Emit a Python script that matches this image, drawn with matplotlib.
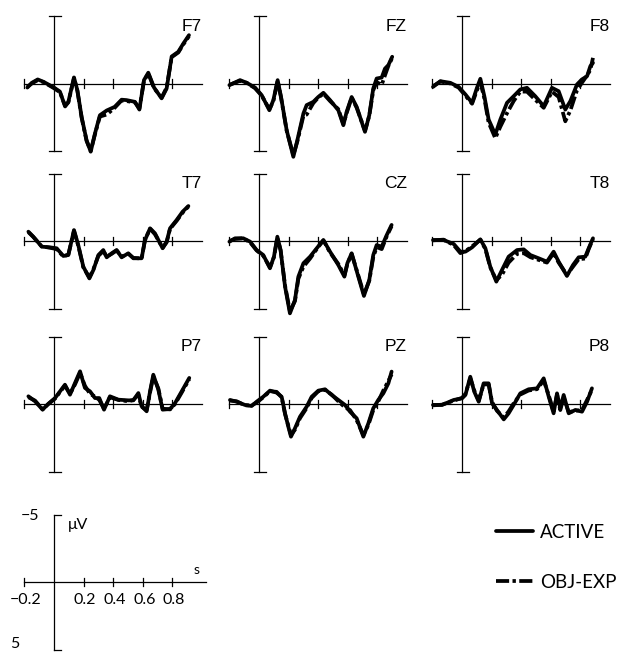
import matplotlib
matplotlib.use("Agg")
import matplotlib.pyplot as plt

# figure size in pixels and drawing scale (pixels per second / per microvolt)
W, H = 621, 656
PX_S = 148.0
PX_UV = 13.5

# ---- ERP data in microvolts (negative plotted upward) ----
f7_t = [-0.18, -0.15, -0.11, -0.07, 0.0, 0.04, 0.075, 0.097, 0.135, 0.158, 0.187, 0.22, 0.248, 0.277, 0.31,
        0.356, 0.41, 0.457, 0.49, 0.547, 0.577, 0.608, 0.637, 0.676, 0.727, 0.761, 0.795, 0.84, 0.874, 0.912]
f7_active = [0.3, -0.05, -0.3, -0.12, 0.3, 0.6, 1.7, 1.36, -0.45, 0.5, 2.5, 4.2, 5.05, 3.7, 2.35,
             2.0, 1.73, 1.2, 1.23, 1.36, 1.93, -0.25, -0.8, 0.3, 1.1, 0.37, -2.0, -2.35, -2.96, -3.58]
f7_objexp = [0.25, 0.0, -0.25, -0.1, 0.35, 0.65, 1.65, 1.4, -0.4, 0.55, 2.55, 4.25, 5.0, 3.75, 2.45,
             2.3, 1.8, 1.25, 1.3, 1.4, 1.85, -0.2, -0.75, 0.35, 1.05, 0.3, -1.95, -2.3, -2.9, -3.5]

fz_t = [-0.2, -0.128, -0.083, -0.027, 0.018, 0.07, 0.097, 0.126, 0.149, 0.187, 0.232, 0.259, 0.3, 0.322, 0.367, 0.4,
        0.435, 0.48, 0.536, 0.57, 0.592, 0.626, 0.66, 0.716, 0.745, 0.772, 0.795, 0.829, 0.851, 0.874, 0.9]
fz_active = [0.12, -0.25, -0.05, 0.3, 0.86, 1.98, 1.23, -0.25, 1.0, 3.46, 5.43, 4.2, 2.22, 1.6, 1.36, 1.0,
             0.69, 1.23, 1.98, 3.09, 2.1, 1.0, 1.73, 3.58, 2.35, 0.37, -0.37, -0.44, -1.1, -1.36, -1.98]
fz_objexp = [0.1, -0.2, -0.05, 0.35, 0.9, 1.9, 1.3, -0.2, 1.05, 3.5, 5.3, 4.3, 2.4, 2.3, 1.45, 1.05,
             0.75, 1.3, 1.9, 3.0, 2.2, 1.05, 1.8, 3.5, 2.4, 0.5, -0.1, 0.1, -0.6, -1.3, -1.9]

f8_t = [-0.196, -0.146, -0.079, -0.023, 0.023, 0.068, 0.101, 0.124, 0.151, 0.18, 0.225, 0.259, 0.304, 0.349,
        0.394, 0.439, 0.495, 0.552, 0.608, 0.653, 0.698, 0.732, 0.777, 0.81, 0.845, 0.867, 0.885]
f8_active = [0.25, -0.17, -0.05, 0.25, 0.81, 1.43, 0.32, -0.35, 0.94, 2.67, 3.78, 2.67, 1.43, 0.94,
             0.44, 0.32, 0.94, 1.68, 0.32, 0.57, 1.93, 1.31, 0.07, -0.3, -0.54, -1.28, -1.53]
f8_objexp = [0.2, -0.15, 0.0, 0.3, 0.9, 1.5, 0.5, -0.1, 1.1, 2.9, 4.05, 3.2, 2.2, 1.3,
             0.6, 0.6, 1.2, 1.8, 0.6, 1.0, 2.8, 2.0, 0.5, -0.05, -0.6, -1.0, -1.9]

t7_t = [-0.173, -0.14, -0.083, -0.027, 0.018, 0.063, 0.097, 0.135, 0.164, 0.198, 0.239, 0.266, 0.3, 0.333, 0.356,
        0.39, 0.423, 0.457, 0.502, 0.536, 0.592, 0.615, 0.649, 0.682, 0.734, 0.761, 0.784, 0.829, 0.869, 0.908]
t7_active = [-0.69, -0.32, 0.42, 0.47, 0.54, 1.11, 1.04, -0.81, 0.3, 1.9, 2.77, 2.15, 1.04, 0.67, 1.21,
             0.91, 0.67, 1.21, 0.91, 1.28, 1.28, -0.07, -0.94, -0.57, 0.54, 0.05, -0.94, -1.56, -2.17, -2.59]
t7_objexp = [-0.65, -0.3, 0.4, 0.5, 0.6, 1.15, 1.0, -0.75, 0.35, 1.95, 2.7, 2.1, 1.1, 0.75, 1.15,
             0.95, 0.7, 1.15, 0.95, 1.25, 1.3, -0.1, -0.9, -0.5, 0.5, 0.1, -0.9, -1.5, -2.1, -2.55]

cz_t = [-0.2, -0.162, -0.106, -0.06, -0.016, 0.029, 0.074, 0.101, 0.124, 0.146, 0.176, 0.209, 0.243, 0.266, 0.3, 0.345,
        0.39, 0.435, 0.48, 0.536, 0.577, 0.597, 0.626, 0.671, 0.709, 0.745, 0.772, 0.795, 0.829, 0.863, 0.896]
cz_active = [0.05, -0.2, -0.2, 0.05, 0.67, 1.04, 2.02, 1.16, -0.32, 0.67, 3.38, 5.36, 4.37, 2.64, 1.65, 1.16,
             0.54, -0.07, 0.79, 1.78, 2.64, 1.65, 0.91, 2.64, 4.07, 2.89, 1.04, 0.3, 0.42, -0.44, -1.19]
cz_objexp = [0.0, -0.15, -0.2, 0.1, 0.7, 1.1, 1.95, 1.2, -0.25, 0.7, 3.3, 5.2, 4.45, 2.8, 1.9, 1.3,
             0.6, -0.05, 0.85, 1.7, 2.55, 1.7, 0.95, 2.55, 3.95, 2.95, 1.2, 0.45, 0.6, -0.35, -1.1]

t8_t = [-0.196, -0.124, -0.056, -0.011, 0.023, 0.068, 0.124, 0.158, 0.191, 0.232, 0.27, 0.315, 0.372,
        0.417, 0.462, 0.518, 0.574, 0.619, 0.653, 0.709, 0.75, 0.788, 0.833, 0.856, 0.885]
t8_active = [-0.07, -0.07, 0.22, 0.79, 0.79, 0.47, -0.12, 0.54, 1.9, 3.01, 2.15, 1.16, 0.67,
             0.62, 1.04, 1.28, 1.53, 0.79, 1.53, 2.59, 1.78, 1.21, 1.16, 0.54, -0.2]
t8_objexp = [-0.05, -0.1, 0.3, 0.9, 0.75, 0.4, -0.1, 0.6, 1.95, 2.9, 2.5, 1.6, 0.95,
             0.9, 1.2, 1.4, 1.6, 0.9, 1.6, 2.5, 1.9, 1.35, 1.3, 0.6, -0.15]

p7_t = [-0.173, -0.128, -0.077, -0.038, 0.007, 0.041, 0.074, 0.108, 0.142, 0.176, 0.209, 0.243, 0.277, 0.306, 0.338,
        0.378, 0.435, 0.502, 0.536, 0.57, 0.592, 0.626, 0.649, 0.671, 0.705, 0.734, 0.784, 0.818, 0.863, 0.914]
p7_active = [-0.57, -0.2, 0.42, -0.02, -0.44, -0.94, -1.43, -0.69, -1.56, -2.42, -1.19, -0.94, -0.44, -0.44, 0.42,
             -0.57, -0.32, -0.27, -0.27, -0.81, 0.17, 0.54, -0.94, -2.17, -1.06, 0.42, 0.37, -0.07, -0.94, -1.93]
p7_objexp = [-0.5, -0.25, 0.4, 0.0, -0.4, -0.9, -1.35, -0.75, -1.45, -2.3, -1.35, -0.75, -0.55, -0.3, 0.35,
             -0.5, -0.3, -0.2, -0.3, -0.7, 0.2, 0.45, -0.85, -2.05, -1.15, 0.35, 0.4, 0.0, -0.85, -1.85]

pz_t = [-0.196, -0.151, -0.095, -0.05, -0.016, 0.029, 0.074, 0.119, 0.153, 0.176, 0.198, 0.216, 0.243, 0.277, 0.322,
        0.356, 0.401, 0.446, 0.491, 0.536, 0.581, 0.615, 0.66, 0.705, 0.739, 0.772, 0.806, 0.84, 0.874, 0.896]
pz_active = [-0.3, -0.17, 0.07, 0.15, -0.17, -0.54, -0.99, -0.84, -0.54, 0.69, 1.68, 2.42, 1.8, 0.94, 0.2,
             -0.54, -0.99, -1.09, -0.67, -0.3, 0.07, 0.57, 1.06, 2.42, 1.43, 0.32, -0.3, -0.79, -1.53, -2.4]
pz_objexp = [-0.25, -0.2, 0.1, 0.1, -0.1, -0.5, -0.95, -0.9, -0.5, 0.75, 1.6, 2.3, 1.9, 1.05, 0.3,
             -0.45, -0.95, -1.05, -0.7, -0.2, 0.25, 0.45, 1.2, 2.3, 1.55, 0.45, -0.2, -1.0, -1.7, -2.2]

p8_t = [-0.196, -0.135, -0.056, 0.0, 0.023, 0.056, 0.083, 0.113, 0.146, 0.18, 0.203, 0.236, 0.282, 0.315, 0.349,
        0.394, 0.45, 0.507, 0.552, 0.586, 0.619, 0.642, 0.664, 0.687, 0.721, 0.766, 0.811, 0.845, 0.878]
p8_active = [0.07, 0.07, -0.3, -0.42, -0.67, -2.02, -0.91, -0.17, -1.53, -1.53, -0.05, 0.44, 1.14, 0.69, 0.07,
             -0.79, -1.09, -1.16, -1.9, -0.54, 0.69, -0.79, 0.32, -0.67, 0.69, 0.44, 0.57, -0.17, -1.16]
p8_objexp = [0.1, 0.05, -0.25, -0.45, -0.75, -1.9, -1.0, -0.25, -1.45, -1.45, -0.15, 0.5, 1.0, 0.55, -0.05,
             -0.7, -1.0, -1.1, -1.75, -0.65, 0.6, -0.7, 0.45, -0.5, 0.6, 0.5, 0.45, -0.3, -1.05]

panels = [
    ["F7", f7_t, f7_active, f7_objexp], ["FZ", fz_t, fz_active, fz_objexp], ["F8", f8_t, f8_active, f8_objexp],
    ["T7", t7_t, t7_active, t7_objexp], ["CZ", cz_t, cz_active, cz_objexp], ["T8", t8_t, t8_active, t8_objexp],
    ["P7", p7_t, p7_active, p7_objexp], ["PZ", pz_t, pz_active, pz_objexp], ["P8", p8_t, p8_active, p8_objexp],
]
time_ticks = [-0.2, 0.2, 0.4, 0.6, 0.8]
tick_labels = ["\u22120.2", "0.2", "0.4", "0.6", "0.8"]
legend_labels = ["ACTIVE", "OBJ-EXP"]

# pixel position of (t=0, 0 uV) for every column / row
col_x0 = [54, 259, 462]
row_y0 = [83.5, 241, 404]

LW_AXIS = 0.9
LW_WAVE = 2.7
DASHDOT = (3.5, 0.9, 0.9, 0.9)
LABEL_FONT = ["Liberation Sans", "DejaVu Sans"]
SCALE_FONT = ["Lato", "DejaVu Sans"]


def make_axes(fig, x0, y0):
    """Axes placed so that t=0, v=0 sits at pixel (x0, y0)"""
    t_min, t_max = -0.3, 1.1
    v_min, v_max = -6.0, 6.0
    left = x0 + t_min * PX_S
    top = y0 + v_min * PX_UV
    w = (t_max - t_min) * PX_S
    h = (v_max - v_min) * PX_UV
    ax = fig.add_axes([left / W, 1 - (top + h) / H, w / W, h / H])
    ax.set_xlim(t_min, t_max)
    ax.set_ylim(v_max, v_min)  # negative up
    ax.axis("off")
    return ax


def draw_frame(ax, t_end=1.0, cap_left=0.035):
    ax.plot([-0.2, t_end], [0, 0], color="black", lw=LW_AXIS)
    ax.plot([0, 0], [-5, 5], color="black", lw=LW_AXIS)
    for v in (-5, 5):
        ax.plot([-cap_left, 0.05], [v, v], color="black", lw=LW_AXIS)
    for t in time_ticks:
        ax.plot([t, t], [-0.32, 0.32], color="black", lw=LW_AXIS)


fig = plt.figure(figsize=(W / 100, H / 100), dpi=100)

handles = []
for i, (name, t, active, objexp) in enumerate(panels):
    ax = make_axes(fig, col_x0[i % 3], row_y0[i // 3])
    draw_frame(ax)
    h1, = ax.plot(t, active, color="black", lw=LW_WAVE, solid_joinstyle="round", solid_capstyle="round")
    h2, = ax.plot(t, objexp, color="black", lw=LW_WAVE, dashes=DASHDOT)
    ax.text(1.0, -3.9, name, ha="right", va="baseline", fontsize=12.5, family=LABEL_FONT)
    if not handles:
        handles = [h1, h2]

# scale bar
sb = make_axes(fig, 54, 582)
draw_frame(sb, t_end=1.03, cap_left=0.0)
sb.text(-0.1, -4.9, "\u22125", ha="right", va="center", fontsize=11.5, family=SCALE_FONT)
sb.text(-0.236, 4.6, "5", ha="right", va="center", fontsize=11.5, family=SCALE_FONT)
sb.text(0.095, -4.2, "\u03bcV", ha="left", va="center", fontsize=11.5, family=SCALE_FONT)
sb.text(0.966, -0.9, "s", ha="center", va="center", fontsize=10, family=SCALE_FONT)
for t, lab in zip(time_ticks, tick_labels):
    sb.text(t + 0.01, 0.8, lab, ha="center", va="top", fontsize=11.5, family=SCALE_FONT)

# legend
fig.legend(handles, legend_labels, loc="upper left", bbox_to_anchor=(496 / W, 1 - 524 / H),
           frameon=False, borderpad=0, borderaxespad=0, handlelength=1.95, handletextpad=0.4,
           labelspacing=1.75, prop={"family": SCALE_FONT, "size": 13.5})

fig.savefig("out.png", dpi=100)
